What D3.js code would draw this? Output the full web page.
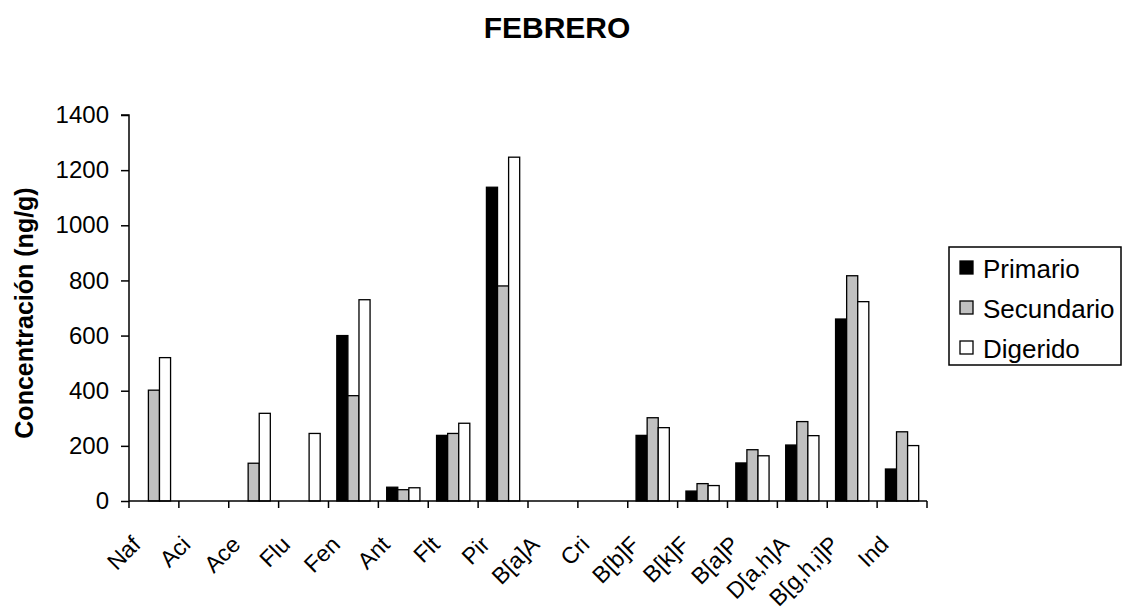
<!DOCTYPE html>
<html>
<head>
<meta charset="utf-8">
<script src="https://cdn.jsdelivr.net/npm/d3@7"></script>
<style>
  html, body { margin: 0; padding: 0; background: #fff; }
  svg { display: block; font-family: "Liberation Sans", Arial, sans-serif; }
</style>
</head>
<body>
<svg id="chart" width="1122" height="614"></svg>
<script>
const categories = ["Naf","Aci","Ace","Flu","Fen","Ant","Flt","Pir","B[a]A","Cri","B[b]F","B[k]F","B[a]P","D[a,h]A","B[g,h,i]P","Ind"];
const seriesNames = ["Primario","Secundario","Digerido"];
const primario   = [0, 0, 0, 0, 600, 50, 238, 1138, 0, 0, 238, 36, 138, 203, 660, 116];
const secundario = [402, 0, 137, 0, 382, 41, 245, 780, 0, 0, 302, 63, 186, 288, 817, 251];
const digerido   = [520, 0, 318, 245, 730, 48, 282, 1247, 0, 0, 266, 56, 164, 237, 723, 201];
const yTicks = [0, 200, 400, 600, 800, 1000, 1200, 1400];
const titleText = "FEBRERO";
const yLabel = "Concentración (ng/g)";

(function () {
const seriesValues = [primario, secundario, digerido];
const fills = ["#000000", "#c0c0c0", "#ffffff"];

const svg = d3.select("#chart");
const pLeft = 129, pRight = 927, pTop = 115, pBottom = 501;

const x = d3.scaleBand().domain(categories).range([pLeft, pRight]).paddingInner(0).paddingOuter(0);
const xs = d3.scaleBand().domain(seriesNames).range([0, x.bandwidth()]).paddingInner(0).paddingOuter(0.75);
const y = d3.scaleLinear().domain([0, 1400]).range([pBottom, pTop]);

// title
svg.append("text").attr("x", 557).attr("y", 38)
  .attr("text-anchor", "middle").attr("font-weight", "bold").attr("font-size", 30)
  .text(titleText);

// y label
svg.append("text")
  .attr("transform", "translate(33,313) rotate(-90)")
  .attr("text-anchor", "middle").attr("font-weight", "bold").attr("font-size", 25)
  .text(yLabel);

// bars
const barData = [];
categories.forEach((c, i) => {
  seriesNames.forEach((s, j) => {
    barData.push({ c, s, j, v: seriesValues[j][i] });
  });
});
svg.append("g").selectAll("rect")
  .data(barData.filter(d => d.v > 0))
  .join("rect")
  .attr("x", d => x(d.c) + xs(d.s))
  .attr("y", d => y(d.v))
  .attr("width", xs.bandwidth())
  .attr("height", d => y(0) - y(d.v))
  .attr("fill", d => fills[d.j])
  .attr("stroke", "#000")
  .attr("stroke-width", 1.3);

// y axis
const yAxis = d3.axisLeft(y).tickValues(yTicks).tickSize(8).tickPadding(12).tickFormat(d3.format("d"));
const gy = svg.append("g").attr("transform", `translate(${pLeft},0)`).call(yAxis);
gy.select(".domain").attr("stroke", "#000").attr("stroke-width", 1.5).attr("d", `M-8,${pTop}H0V${pBottom}`);
gy.selectAll(".tick line").attr("stroke", "#000").attr("stroke-width", 1.5);
gy.selectAll(".tick text").attr("font-size", 24).attr("fill", "#000")
  .attr("font-family", "Liberation Sans, Arial, sans-serif");

// x axis
const gx = svg.append("g").attr("transform", `translate(0,${pBottom})`);
gx.append("line").attr("x1", pLeft).attr("x2", pRight).attr("y1", 0).attr("y2", 0)
  .attr("stroke", "#000").attr("stroke-width", 1.5);
const boundaries = categories.map(c => x(c)).concat([x(categories[categories.length - 1]) + x.bandwidth()]);
gx.selectAll("line.tk").data(boundaries).join("line").attr("class", "tk")
  .attr("x1", d => d).attr("x2", d => d).attr("y1", 0).attr("y2", 7)
  .attr("stroke", "#000").attr("stroke-width", 1.5);
gx.selectAll("text").data(categories).join("text")
  .attr("transform", d => `translate(${x(d) + x.bandwidth() / 2 - 12},${45}) rotate(-45)`)
  .attr("text-anchor", "end")
  .attr("font-size", 23)
  .text(d => d);

// legend
const lg = svg.append("g");
lg.append("rect").attr("x", 949).attr("y", 247).attr("width", 172).attr("height", 118)
  .attr("fill", "#fff").attr("stroke", "#000").attr("stroke-width", 1.5);
seriesNames.forEach((s, j) => {
  const cy = 268 + j * 40;
  lg.append("rect").attr("x", 960).attr("y", cy - 7).attr("width", 13).attr("height", 13)
    .attr("fill", fills[j]).attr("stroke", "#000").attr("stroke-width", 1.3);
  lg.append("text").attr("x", 983).attr("y", cy + 10).attr("font-size", 26).text(s);
});
})();
</script>
</body>
</html>
